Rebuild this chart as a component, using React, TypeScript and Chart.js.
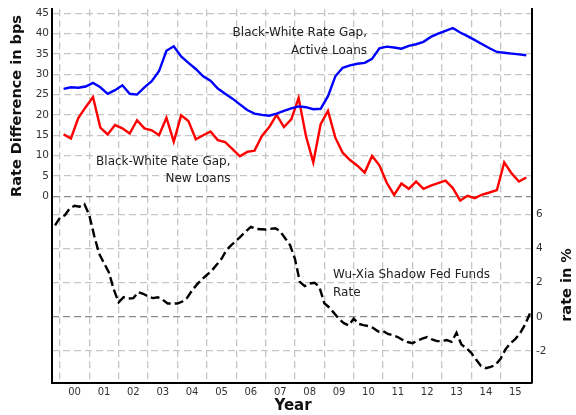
import React, { useEffect, useRef } from 'react';
import { Chart, registerables } from 'chart.js';

Chart.register(...registerables);

// Quarterly Black-White rate gaps (bps), first quarter = 2000Q1
const activeLoansGap = [
  26.4, 26.8, 26.7, 27.0, 27.9, 26.8, 25.2, 26.1, 27.3, 25.2, 25.0, 26.8, 28.3, 30.8, 35.8, 36.9,
  34.4, 32.8, 31.3, 29.5, 28.4, 26.5, 25.2, 24.0, 22.6, 21.2, 20.3, 20.0, 19.8, 20.3, 21.0, 21.6,
  22.1, 21.9, 21.4, 21.5, 24.6, 29.5, 31.6, 32.2, 32.6, 32.8, 33.8, 36.4, 36.8, 36.6, 36.3, 37.0,
  37.4, 38.0, 39.2, 40.0, 40.7, 41.4, 40.3, 39.4, 38.4, 37.4, 36.4, 35.5, 35.3, 35.1, 34.9, 34.7,
];
const newLoansGap = [
  15.2, 14.2, 19.2, 21.9, 24.4, 16.9, 15.2, 17.5, 16.7, 15.4, 18.7, 16.7, 16.2, 15.0, 19.3, 13.4,
  19.9, 18.5, 14.0, 15.0, 15.9, 13.8, 13.3, 11.6, 9.8, 10.9, 11.2, 14.8, 17.0, 20.0, 17.0, 18.9,
  24.2, 14.8, 8.3, 17.7, 21.0, 14.4, 10.7, 8.9, 7.5, 5.8, 9.9, 7.6, 3.3, 0.3, 3.1, 1.8,
  3.6, 1.8, 2.6, 3.2, 3.8, 2.0, -1.1, 0.1, -0.5, 0.4, 0.9, 1.5, 8.3, 5.6, 3.6, 4.6,
];
// Wu-Xia shadow fed funds rate (%), every two months from end of Oct 1999
const shadowRate = [
  5.35, 5.8, 5.95, 6.35, 6.5, 6.45, 6.6, 5.95, 4.75, 3.7, 3.15, 2.6, 1.6, 0.85, 1.15, 1.07,
  1.1, 1.45, 1.35, 1.2, 1.1, 1.15, 1.0, 0.78, 0.78, 0.78, 0.9, 1.12, 1.55, 1.9, 2.2, 2.45,
  2.7, 3.05, 3.4, 3.9, 4.2, 4.45, 4.73, 5.0, 5.27, 5.15, 5.13, 5.11, 5.15, 5.19, 5.0, 4.6,
  4.2, 3.4, 2.05, 1.8, 1.95, 2.0, 1.75, 0.8, 0.55, 0.22, -0.12, -0.37, -0.5, -0.1, -0.41, -0.48,
  -0.54, -0.65, -0.86, -0.83, -1.0, -1.08, -1.18, -1.35, -1.47, -1.54, -1.4, -1.27, -1.18, -1.32, -1.42, -1.42,
  -1.36, -1.46, -0.93, -1.62, -1.83, -2.1, -2.5, -2.88, -3.0, -2.93, -2.8, -2.45, -1.9, -1.55, -1.3, -0.95,
  -0.45, 0.2,
];

const yearGrid = [2000, 2001, 2002, 2003, 2004, 2005, 2006, 2007, 2008, 2009, 2010, 2011, 2012, 2013, 2014, 2015];
const yearLabels = ['00', '01', '02', '03', '04', '05', '06', '07', '08', '09', '10', '11', '12', '13', '14', '15'];
const bpsTicks = [0, 5, 10, 15, 20, 25, 30, 35, 40, 45];
const pctTicks = [-2, 0, 2, 4, 6];
const pctLabels = ['-2', '0', '2', '4', '6'];

const quarterDates = activeLoansGap.map((_, i) => 2000 + (3 * i + 1.5) / 12);
const shadowDates = shadowRate.map((_, k) => 1999 + (10 + 2 * k) / 12);

const X_MIN = 1999.73;
const X_MAX = 2016.07;

const gridColor = (ctx: any) => (ctx.tick && ctx.tick.value === 0 ? '#8a8a8a' : '#c6c6c6');
const tickFont = { family: 'DejaVu Sans', size: 10.5 };

export default function App() {
  const canvasRef = useRef<HTMLCanvasElement | null>(null);

  useEffect(() => {
    const canvas = canvasRef.current;
    if (!canvas) return;

    const textPlugin = {
      id: 'texts',
      afterDraw(chart: any) {
        const ctx = chart.ctx;
        ctx.save();

        // right axis tick labels
        const y2 = chart.scales.y2;
        ctx.fillStyle = '#333';
        ctx.font = '10.5px "DejaVu Sans"';
        ctx.textAlign = 'left';
        ctx.textBaseline = 'middle';
        pctTicks.forEach((v, i) => {
          ctx.fillText(pctLabels[i], y2.left + 4, y2.getPixelForValue(v));
        });

        ctx.fillStyle = '#111';
        ctx.font = 'bold 14.5px "DejaVu Sans"';
        ctx.textAlign = 'center';
        ctx.save();
        ctx.translate(17, 106);
        ctx.rotate(-Math.PI / 2);
        ctx.fillText('Rate Difference in bps', 0, 0);
        ctx.restore();
        ctx.save();
        ctx.translate(567, 285);
        ctx.rotate(-Math.PI / 2);
        ctx.fillText('rate in %', 0, 0);
        ctx.restore();
        ctx.font = 'bold 15px "DejaVu Sans"';
        ctx.fillText('Year', 293, 406);

        ctx.font = '12px "DejaVu Sans"';
        ctx.fillStyle = '#222';
        ctx.textAlign = 'right';
        ctx.fillText('Black-White Rate Gap,', 367, 33);
        ctx.fillText('Active Loans', 367, 50.5);
        ctx.fillText('Black-White Rate Gap,', 230.5, 162);
        ctx.fillText('New Loans', 230.5, 179);
        ctx.textAlign = 'left';
        ctx.fillText('Wu-Xia Shadow Fed Funds', 333, 275);
        ctx.fillText('Rate', 333, 292.5);
        ctx.restore();
      },
    };

    const chart = new Chart(canvas, {
      type: 'line',
      data: {
        datasets: [
          {
            label: 'Active Loans',
            data: quarterDates.map((x, i) => ({ x, y: activeLoansGap[i] })),
            borderColor: '#0000ff',
            borderWidth: 2.4,
            pointRadius: 0,
            tension: 0,
            yAxisID: 'y',
          },
          {
            label: 'New Loans',
            data: quarterDates.map((x, i) => ({ x, y: newLoansGap[i] })),
            borderColor: '#ff0000',
            borderWidth: 2.4,
            pointRadius: 0,
            tension: 0,
            yAxisID: 'y',
          },
          {
            label: 'Wu-Xia Shadow Fed Funds Rate',
            data: shadowDates.map((x, i) => ({ x, y: shadowRate[i] })),
            borderColor: '#000000',
            borderWidth: 2.4,
            borderDash: [9, 4],
            pointRadius: 0,
            tension: 0,
            yAxisID: 'y2',
          },
        ],
      },
      options: {
        responsive: false,
        animation: false,
        layout: { padding: { top: 8, left: 0, right: 0, bottom: 0 } },
        plugins: { legend: { display: false }, tooltip: { enabled: false } },
        scales: {
          x: {
            type: 'linear',
            min: X_MIN,
            max: X_MAX,
            afterBuildTicks: (s: any) => {
              s.ticks = yearGrid.map((v) => ({ value: v }));
            },
            afterFit: (s: any) => {
              s.height = 32;
            },
            ticks: {
              autoSkip: false,
              maxRotation: 0,
              padding: 3,
              labelOffset: 480 / (X_MAX - X_MIN) / 2,
              color: '#333',
              font: { family: 'DejaVu Sans', size: 10 },
              callback: (v: any) => {
                const i = yearGrid.indexOf(Math.round(Number(v)));
                return i >= 0 ? yearLabels[i] : '';
              },
            },
            grid: { color: '#c6c6c6', lineWidth: 1.3, drawTicks: false },
            border: { display: true, color: '#000', width: 2, dash: [7, 4] },
          },
          y: {
            position: 'left',
            min: -46,
            max: 46,
            afterBuildTicks: (s: any) => {
              s.ticks = bpsTicks.map((v) => ({ value: v }));
            },
            afterFit: (s: any) => {
              s.width = 52;
            },
            ticks: {
              padding: 3,
              color: '#333',
              font: tickFont,
              autoSkip: false,
              callback: (v: any) => String(v),
            },
            grid: { color: gridColor, lineWidth: 1.3, drawTicks: false },
            border: { display: true, color: '#000', width: 2, dash: [7, 4] },
          },
          y2: {
            position: 'right',
            min: -3.87,
            max: 18,
            afterBuildTicks: (s: any) => {
              s.ticks = pctTicks.map((v) => ({ value: v }));
            },
            afterFit: (s: any) => {
              s.width = 44;
            },
            ticks: { display: false },
            grid: { color: gridColor, lineWidth: 1.3, drawTicks: false },
            border: { display: true, color: '#000', width: 2, dash: [7, 4] },
          },
        },
      },
      plugins: [textPlugin],
    } as any);

    return () => chart.destroy();
  }, []);

  return (
    <div style={{ position: 'fixed', left: 0, top: 0, width: 576, height: 415, background: '#fff' }}>
      <canvas ref={canvasRef} width={576} height={415} style={{ display: 'block' }} />
    </div>
  );
}
